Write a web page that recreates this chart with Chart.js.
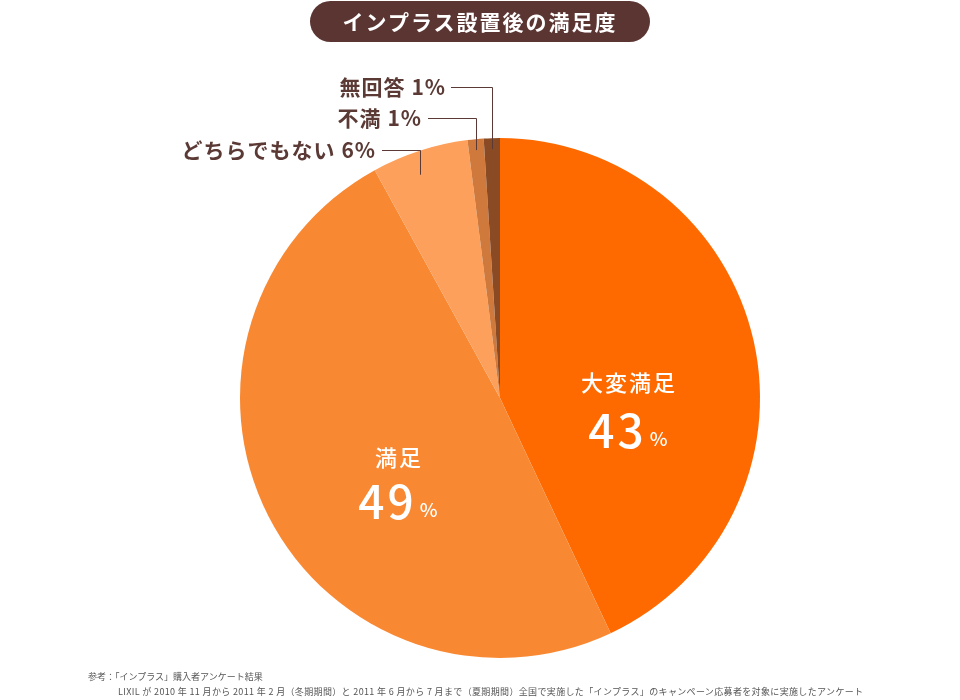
<!DOCTYPE html>
<html lang="ja">
<head>
<meta charset="utf-8">
<script src="https://cdn.jsdelivr.net/npm/chart.js@4.4.1/dist/chart.umd.min.js"></script>
<style>
  html, body { margin: 0; padding: 0; background: #fff; }
  #wrap { position: relative; width: 960px; height: 700px; overflow: hidden; font-family: "Noto Sans CJK JP", "Noto Sans", sans-serif; }
  #c { position: absolute; left: 0; top: 0; }
  #title { position: absolute; left: 310px; top: 1px; width: 340px; height: 41px; border-radius: 21px; background: #5b3532; color: #fff; font-size: 21px; font-weight: 700; line-height: 41px; text-align: center; letter-spacing: 2px; }
  .note { position: absolute; font-size: 9px; color: #555; white-space: nowrap; }
</style>
</head>
<body>
<div id="wrap">
  <canvas id="c" width="960" height="700"></canvas>
  <div id="title">インプラス設置後の満足度</div>
  <div class="note" style="left:88px; top:670px;">参考：「インプラス」購入者アンケート結果</div>
  <div class="note" style="left:118px; top:685px; letter-spacing:0.35px;">LIXIL が 2010 年 11 月から 2011 年 2 月（冬期期間）と 2011 年 6 月から 7 月まで（夏期期間）全国で実施した「インプラス」のキャンペーン応募者を対象に実施したアンケート</div>
</div>
<script>
const categories = ["大変満足", "満足", "どちらでもない", "不満", "無回答"];
const values = [43, 49, 6, 1, 1];
const colors = ["#ff6a00", "#f98832", "#fca05c", "#cf7a3c", "#8a4a24"];

const labelPlugin = {
  id: "labelPlugin",
  afterDatasetsDraw(chart) {
    const ctx = chart.ctx;
    const meta = chart.getDatasetMeta(0);
    const font = '"Noto Sans CJK JP", "Noto Sans", sans-serif';
    const inside = [
      { i: 0, nameY: 383, pctY: 431, x: 628 },
      { i: 1, nameY: 458, pctY: 502, x: 398 }
    ];
    inside.forEach(o => {
      ctx.save();
      ctx.fillStyle = "#fff";
      ctx.textBaseline = "middle";
      ctx.letterSpacing = "2px";
      ctx.font = "500 22px " + font;
      const name = categories[o.i];
      const nameW = ctx.measureText(name).width;
      ctx.textAlign = "left";
      ctx.fillText(name, o.x - (nameW - 2) / 2, o.nameY);
      const num = String(values[o.i]);
      ctx.letterSpacing = "3px";
      ctx.font = "500 46px " + font;
      const nw = ctx.measureText(num).width;
      ctx.letterSpacing = "0px";
      ctx.font = "500 19px " + font;
      const pw = ctx.measureText("%").width;
      const total = nw + 3 + pw;
      const sx = o.x - total / 2;
      ctx.letterSpacing = "3px";
      ctx.font = "500 46px " + font;
      ctx.fillText(num, sx, o.pctY);
      ctx.letterSpacing = "0px";
      ctx.font = "500 19px " + font;
      ctx.fillText("%", sx + nw + 3, o.pctY + 8);
      ctx.restore();
    });
    const outside = [
      { i: 2, textRight: 375, y: 150, lineStart: 382, depth: 24 },
      { i: 3, textRight: 421, y: 118, lineStart: 428, depth: 11 },
      { i: 4, textRight: 445, y: 87, lineStart: 451, depth: 11 }
    ];
    outside.forEach(o => {
      const arc = meta.data[o.i];
      const mid = (arc.startAngle + arc.endAngle) / 2;
      const r = arc.outerRadius;
      const lx = arc.x + Math.cos(mid) * r;
      const ly = arc.y + Math.sin(mid) * r;
      ctx.save();
      ctx.strokeStyle = "#5b3a35";
      ctx.lineWidth = 1;
      ctx.beginPath();
      ctx.moveTo(o.lineStart, o.y + 0.5);
      ctx.lineTo(Math.round(lx) + 0.5, o.y + 0.5);
      ctx.lineTo(Math.round(lx) + 0.5, ly + o.depth);
      ctx.stroke();
      ctx.fillStyle = "#5b3a35";
      ctx.textAlign = "left";
      ctx.textBaseline = "middle";
      ctx.letterSpacing = "1px";
      ctx.font = "700 21px " + font;
      const t = categories[o.i] + " " + values[o.i] + "%";
      const w = ctx.measureText(t).width - 1;
      ctx.fillText(t, o.textRight - w, o.y);
      ctx.restore();
    });
  }
};

new Chart(document.getElementById("c"), {
  type: "pie",
  data: {
    labels: categories,
    datasets: [{
      data: values,
      backgroundColor: colors,
      borderWidth: 0
    }]
  },
  options: {
    responsive: false,
    animation: false,
    layout: { padding: { left: 240, right: 200, top: 138, bottom: 42 } },
    plugins: { legend: { display: false }, tooltip: { enabled: false } }
  },
  plugins: [labelPlugin]
});
</script>
</body>
</html>
